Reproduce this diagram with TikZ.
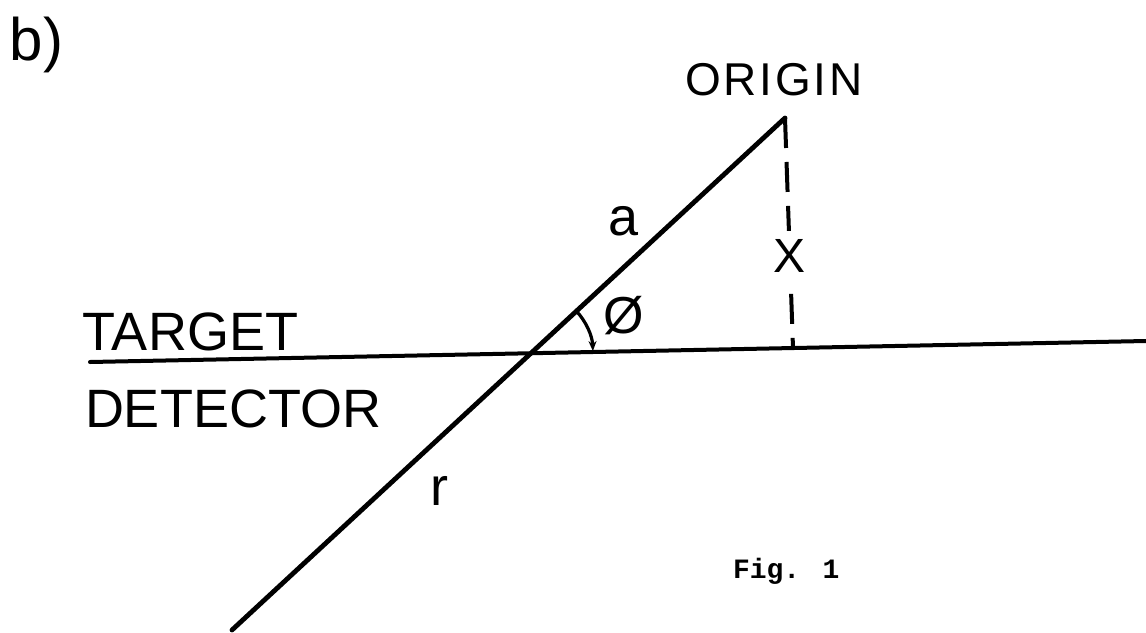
\documentclass[tikz,border=0pt]{standalone}
\usepackage{fontspec}
\setmainfont{Liberation Sans}
\newfontfamily\spaced[LetterSpace=6]{Liberation Sans}
\newfontfamily\typefont{Liberation Mono}
\usetikzlibrary{arrows.meta}
\tikzset{
  lbl/.style={inner sep=0pt, outer sep=0pt, text=black},
  big/.style={lbl, font=\fontsize{27}{30}\selectfont},
  thickline/.style={line width=2.4pt, line cap=round},
  midline/.style={line width=2pt, line cap=round},
  dashline/.style={line width=2pt, dash pattern=on 15pt off 7pt}
}
\begin{document}
\begin{tikzpicture}[x=0.5pt, y=0.5pt]
\useasboundingbox (0,0) rectangle (1146,-632);
% key points
\coordinate (O) at (785,-118);
\coordinate (F) at (793,-348);
\coordinate (L) at (232,-630);
\coordinate (HL) at (90,-362);
\coordinate (HR) at (1146,-341);
\path (intersection cs: first line={(L)--(O)}, second line={(HL)--(HR)}) coordinate (P);
% lines
\draw[midline] (HL) -- (HR);
\draw[thickline] (L) -- (O);
\draw[dashline] (O) -- node[lbl, pos=0.6, fill=white, inner sep=4pt, font=\fontsize{24}{27}\selectfont] (xl) {X} (F);
% angle arc
\draw[line width=1.6pt, -{Stealth[length=5pt, width=4pt]}] ([shift={(42.8:31pt)}]P) arc[start angle=42.8, end angle=2, radius=31pt];
% labels
\node[lbl, anchor=base west, font=\fontsize{30}{34}\selectfont] (b) at (10,-60) {b)};
\node[lbl, anchor=base west, font=\spaced\fontsize{23}{26}\selectfont] (orig) at (685,-95) {ORIGIN};
\node[big, anchor=base west] (tgt) at (83,-350) {TARGET};
\node[big, anchor=base west] (det) at (85,-427) {DETECTOR};
\node[big, anchor=base west] (a) at (608,-235) {a};
\node[lbl, font=\fontsize{26}{30}\selectfont] (phi) at (624,-316) {Ø};
\node[big, anchor=base west] (r) at (430,-505) {r};
\node[lbl, anchor=base west, font=\typefont\bfseries\fontsize{14}{16}\selectfont] (fig) at (733,-578) {Fig. 1};
\end{tikzpicture}
\end{document}
